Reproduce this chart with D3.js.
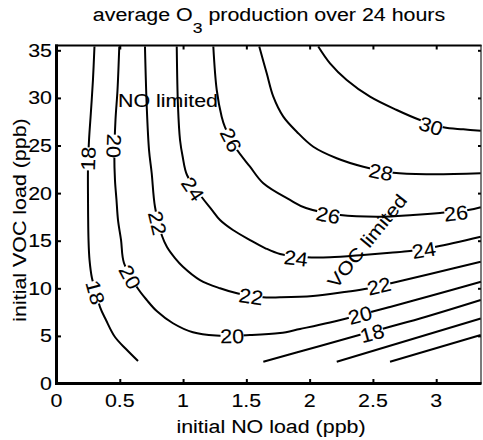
<!DOCTYPE html>
<html><head><meta charset="utf-8">
<script src="https://cdn.jsdelivr.net/npm/d3@7"></script>
<style>body{margin:0;background:#fff}text{font-family:"Liberation Sans",Arial,Helvetica,sans-serif;fill:#000;stroke:#000;stroke-width:0.1px}</style>
</head><body><svg id="c" width="483" height="440"></svg>
<script>
// ---- data ----
const xTicks = [0, 0.5, 1, 1.5, 2, 2.5, 3];
const yTicks = [0, 5, 10, 15, 20, 25, 30, 35];
const xTickLabels = ["0", "0.5", "1", "1.5", "2", "2.5", "3"];
const yTickLabels = ["0", "5", "10", "15", "20", "25", "30", "35"];

const line18a = [[0.300,35.40],[0.288,31.88],[0.273,28.73],[0.257,25.58],[0.249,22.95],[0.249,19.28],[0.253,15.07],[0.261,12.97],[0.280,11.08],[0.344,8.03],[0.391,6.67],[0.462,4.88],[0.549,3.62],[0.644,2.36]];
const labels18a = [[0.249,23.6],[0.308,9.56]];
const line20a = [[0.496,35.40],[0.482,30.83],[0.466,27.68],[0.457,23.98],[0.462,21.38],[0.474,19.28],[0.486,17.17],[0.510,15.07],[0.533,12.66],[0.636,10.11],[0.715,8.74],[0.794,7.58],[0.920,6.33],[1.078,5.38],[1.260,5.04],[1.529,5.09],[1.766,5.30],[1.924,5.73],[2.161,6.41],[2.635,8.04],[2.951,9.19],[3.354,10.69]];
const labels20a = [[0.454,24.94],[0.581,11.19],[1.387,4.99],[2.398,7.19]];
const line22 = [[0.699,35.40],[0.713,29.08],[0.731,24.53],[0.752,22.11],[0.778,18.57],[0.834,15.49],[0.873,14.34],[0.936,13.18],[0.999,12.27],[1.134,10.87],[1.292,10.00],[1.434,9.45],[1.632,9.05],[1.766,9.05],[2.026,9.19],[2.293,9.64],[2.461,9.98],[2.651,10.56],[2.951,11.50],[3.352,12.79]];
const labels22 = [[0.798,16.86],[1.537,9.14],[2.548,10.24]];
const line24 = [[0.950,35.40],[0.960,29.08],[0.976,25.58],[0.997,23.82],[1.031,21.90],[1.147,19.59],[1.229,18.22],[1.292,17.17],[1.394,16.12],[1.529,15.07],[1.647,14.23],[1.766,13.60],[1.979,13.26],[2.161,13.26],[2.422,13.50],[2.635,13.74],[2.793,13.92],[2.998,14.37],[3.352,15.42]];
const labels24 = [[1.078,20.43],[1.892,13.18],[2.903,14.02]];
const line26 = [[1.239,35.40],[1.266,30.83],[1.305,28.03],[1.331,26.94],[1.410,24.87],[1.529,22.77],[1.634,21.03],[1.845,19.28],[1.971,18.43],[2.241,17.70],[2.556,17.52],[2.817,17.70],[3.030,17.91],[3.254,18.22],[3.352,18.51]];
const labels26 = [[1.379,25.58],[2.146,17.70],[3.156,17.91]];
const line28 = [[1.602,35.40],[1.661,32.58],[1.713,30.13],[1.792,28.03],[1.898,26.45],[2.029,24.87],[2.214,23.66],[2.424,22.77],[2.661,22.14],[2.951,21.98],[3.352,22.08]];
const labels28 = [[2.564,22.22]];
const line30 = [[2.068,35.40],[2.161,33.63],[2.293,31.88],[2.477,30.13],[2.688,28.73],[2.872,27.68],[3.056,26.91],[3.214,26.70],[3.352,26.55]];
const labels30 = [[2.959,27.05]];
const line18b = [[1.634,2.29],[2.082,3.94],[2.477,5.41],[2.872,6.83],[3.352,8.77]];
const labels18b = [[2.493,5.30]];
const line16 = [[2.214,2.29],[3.352,6.83]];
const line14 = [[2.635,2.29],[3.352,5.09]];

const contours = [
  {level: 18, pts: line18a, labels: labels18a},
  {level: 20, pts: line20a, labels: labels20a},
  {level: 22, pts: line22, labels: labels22},
  {level: 24, pts: line24, labels: labels24},
  {level: 26, pts: line26, labels: labels26},
  {level: 28, pts: line28, labels: labels28},
  {level: 30, pts: line30, labels: labels30},
  {level: 18, pts: line18b, labels: labels18b},
  {level: 16, pts: line16, labels: []},
  {level: 14, pts: line14, labels: []}
];
// labels whose text reads top-to-bottom on near-vertical lines: [contour index, label index]
const flipped = [[1, 0]];

// ---- drawing ----
const svg = d3.select("#c");
const S = 1.17, FS = 18.3;
const x = d3.scaleLinear().domain([0, 3.35]).range([56.5, 480.5]);
const y = d3.scaleLinear().domain([0, 35.4]).range([383.5, 46.5]);

function txt(g, px, py, s, o = {}) {
  return g.append("text")
    .attr("transform", `translate(${px},${py}) rotate(${o.angle || 0}) scale(${o.sx || S},1)`)
    .attr("text-anchor", o.anchor || "middle")
    .attr("font-size", o.size || FS)
    .attr("dy", o.dy || 0)
    .text(s);
}

const line = d3.line().x(d => x(d[0])).y(d => y(d[1])).curve(d3.curveCatmullRom.alpha(0.5));

const gl = svg.append("g");
contours.forEach(c => {
  gl.append("path").attr("d", line(c.pts)).attr("fill", "none")
    .attr("stroke", "#000").attr("stroke-width", 2).attr("stroke-linejoin", "round");
});

// labels
const glab = svg.append("g");
contours.forEach((c, ci) => {
  const P = c.pts.map(d => [x(d[0]), y(d[1])]);
  c.labels.forEach((l, li) => {
    const lx = x(l[0]), ly = y(l[1]);
    let best = 1e9, ang = 0;
    for (let i = 0; i < P.length - 1; i++) {
      const [ax, ay] = P[i], [bx, by] = P[i + 1];
      const dx = bx - ax, dy = by - ay;
      let t = ((lx - ax) * dx + (ly - ay) * dy) / (dx * dx + dy * dy);
      t = Math.max(0, Math.min(1, t));
      const qx = ax + t * dx, qy = ay + t * dy;
      const dd = (qx - lx) ** 2 + (qy - ly) ** 2;
      if (dd < best) { best = dd; ang = Math.atan2(dy, dx) * 180 / Math.PI; }
    }
    if (ang > 90) ang -= 180;
    if (ang <= -90) ang += 180;
    if (flipped.some(f => f[0] === ci && f[1] === li)) ang += 180;
    const g = glab.append("g").attr("transform", `translate(${lx},${ly}) rotate(${ang})`);
    const t = g.append("text").attr("text-anchor", "middle").attr("font-size", 20)
      .attr("transform", "scale(1.08,1)").attr("dy", "0.36em").text(String(c.level));
    const w = t.node().getComputedTextLength() * 1.08;
    g.insert("rect", "text").attr("x", -w / 2 + 0.5).attr("y", -5).attr("width", w - 1).attr("height", 10).attr("fill", "#fff");
  });
});

// axes ticks (inward)
const tickStyle = g => { g.select(".domain").remove(); g.selectAll("text").remove(); g.selectAll("line").attr("stroke", "#000").attr("stroke-width", 2); };
svg.append("g").attr("transform", "translate(0,383.5)").call(d3.axisBottom(x).tickValues(xTicks).tickSizeInner(-4.5).tickSizeOuter(0)).call(tickStyle);
svg.append("g").attr("transform", "translate(0,45.5)").call(d3.axisTop(x).tickValues(xTicks).tickSizeInner(-4).tickSizeOuter(0)).call(tickStyle);
svg.append("g").attr("transform", "translate(56.5,0)").call(d3.axisLeft(y).tickValues(yTicks).tickSizeInner(-4.5).tickSizeOuter(0)).call(tickStyle);
svg.append("g").attr("transform", "translate(481,0)").call(d3.axisRight(y).tickValues(yTicks).tickSizeInner(-3).tickSizeOuter(0)).call(tickStyle);

// frame
svg.append("line").attr("x1", 55).attr("x2", 481.5).attr("y1", 45.5).attr("y2", 45.5).attr("stroke", "#000").attr("stroke-width", 2);
svg.append("line").attr("x1", 481).attr("x2", 481).attr("y1", 45).attr("y2", 384).attr("stroke", "#222").attr("stroke-width", 1.2);
svg.append("line").attr("x1", 56.5).attr("x2", 56.5).attr("y1", 44.5).attr("y2", 385).attr("stroke", "#000").attr("stroke-width", 3);
svg.append("line").attr("x1", 55).attr("x2", 481.5).attr("y1", 383.5).attr("y2", 383.5).attr("stroke", "#000").attr("stroke-width", 3);

// tick labels
const gt = svg.append("g");
xTicks.forEach((v, i) => txt(gt, x(v), 406.5, xTickLabels[i]));
yTicks.forEach((v, i) => txt(gt, 52, y(v) + 6.5, yTickLabels[i], {anchor: "end"}));

// axis titles
txt(svg, 271, 433, "initial NO load (ppb)");
txt(svg, 26, 220, "initial VOC load (ppb)", {angle: -90});

// title
const tt = svg.append("text").attr("transform", `translate(269,20.7) scale(${S},1)`)
  .attr("text-anchor", "middle").attr("font-size", FS);
tt.append("tspan").text("average O");
tt.append("tspan").attr("font-size", 15).attr("dy", 12.6).text("3");
tt.append("tspan").attr("dy", -12.6).text(" production over 24 hours");

// region annotations
txt(svg, 168, 107, "NO limited");
txt(svg, 367, 241, "VOC limited", {angle: -51, dy: "0.36em"});
</script></body></html>
